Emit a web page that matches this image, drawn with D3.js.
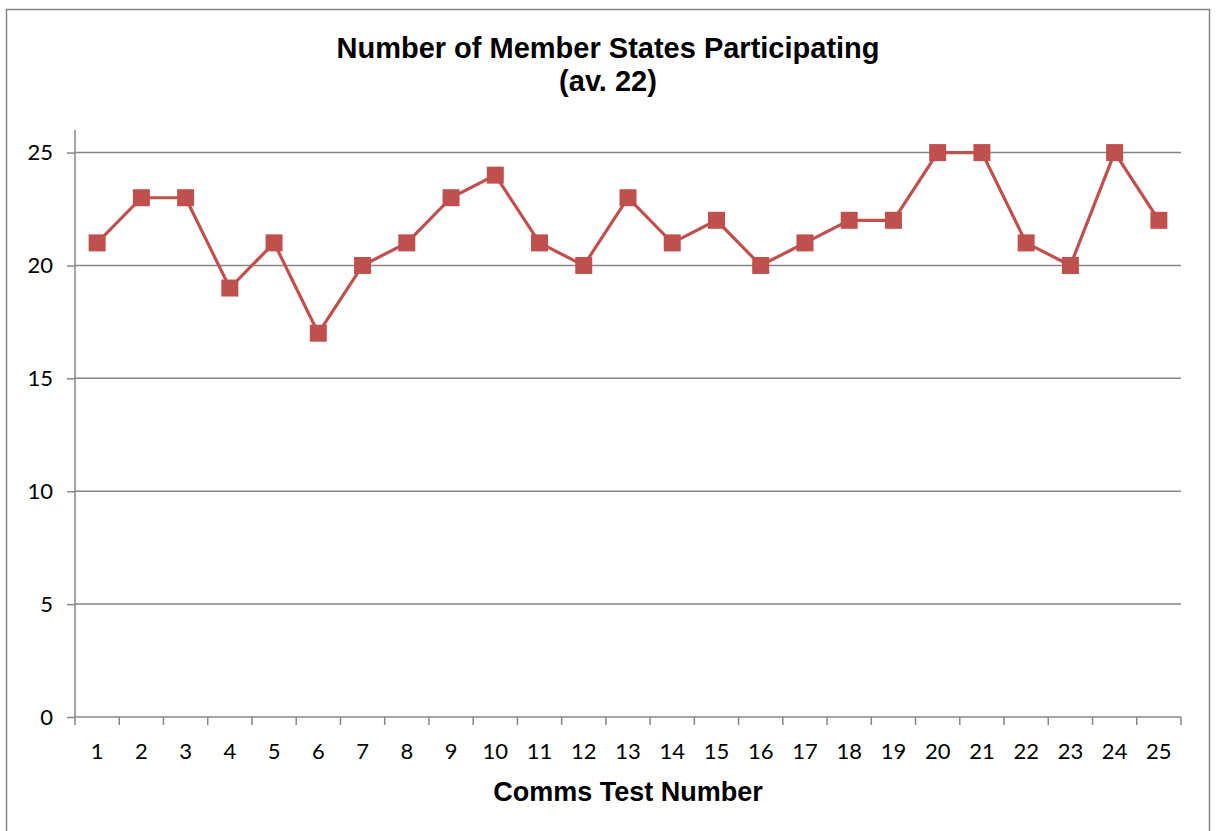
<!DOCTYPE html>
<html>
<head>
<meta charset="utf-8">
<script src="https://cdn.jsdelivr.net/npm/d3@7"></script>
<style>
body{margin:0;background:#fff;}
svg{display:block;}
</style>
</head>
<body>
<main></main>
<script>
const tests=["1","2","3","4","5","6","7","8","9","10","11","12","13","14","15","16","17","18","19","20","21","22","23","24","25"];
const states=[21,23,23,19,21,17,20,21,23,24,21,20,23,21,22,20,21,22,22,25,25,21,20,25,22];
const yTicks=[0,5,10,15,20,25];
const titleLines=["Number of Member States Participating","(av. 22)"];
const xTitle="Comms Test Number";

const w=1219;
const h=831;
const padL=75, padR=1181, padT=130, padB=717;
const red="#C0504D";
const grey="#878787";

let svg=d3.select("main")
          .append("svg")
          .attr("width",w)
          .attr("height",h);

svg.append("rect")
   .attr("x",6.5)
   .attr("y",9.5)
   .attr("width",1203)
   .attr("height",830)
   .attr("fill","none")
   .attr("stroke",grey)
   .attr("stroke-width",1.5);

const xScale=d3.scaleBand()
               .domain(tests)
               .range([padL,padR]);
const yScale=d3.scaleLinear()
               .domain([0,26])
               .range([padB,padT]);

// gridlines
svg.append("g")
   .selectAll("line")
   .data(yTicks.filter(t=>t>0))
   .enter()
   .append("line")
   .attr("x1",padL)
   .attr("x2",padR)
   .attr("y1",d=>yScale(d))
   .attr("y2",d=>yScale(d))
   .attr("stroke",grey)
   .attr("stroke-width",1.5);

const yAxis=d3.axisLeft(yScale)
              .tickValues(yTicks)
              .tickSize(8)
              .tickPadding(14);
const gy=svg.append("g")
   .attr("transform","translate("+padL+",0)")
   .call(yAxis);
gy.select(".domain").attr("stroke",grey).attr("stroke-width",1.5).attr("d","M0,"+padT+"V"+padB);
gy.selectAll(".tick line").attr("stroke",grey).attr("stroke-width",1.5);
gy.selectAll(".tick text")
  .style("font-family","Lato, 'Open Sans', sans-serif")
  .style("font-size","22px")
  .attr("fill","#000");

const xAxis=d3.axisBottom(xScale)
              .tickSize(0)
              .tickPadding(26);
const gx=svg.append("g")
   .attr("transform","translate(0,"+padB+")")
   .call(xAxis);
gx.select(".domain").attr("stroke",grey).attr("stroke-width",1.5).attr("d","M"+padL+",0H"+padR);
gx.selectAll(".tick line").remove();
gx.selectAll(".tick text")
  .style("font-family","Lato, 'Open Sans', sans-serif")
  .style("font-size","22px")
  .attr("fill","#000");
// category boundary ticks
gx.selectAll(".bound")
  .data(tests)
  .enter()
  .append("line")
  .attr("class","bound")
  .attr("x1",d=>xScale(d))
  .attr("x2",d=>xScale(d))
  .attr("y1",0)
  .attr("y2",8)
  .attr("stroke",grey)
  .attr("stroke-width",1.5);
gx.append("line")
  .attr("x1",padR).attr("x2",padR)
  .attr("y1",0).attr("y2",8)
  .attr("stroke",grey)
  .attr("stroke-width",1.5);

const line=d3.line()
             .x((d,i)=>xScale(tests[i])+xScale.bandwidth()/2)
             .y(d=>yScale(d));
svg.append("path")
   .datum(states)
   .attr("d",line)
   .attr("fill","none")
   .attr("stroke",red)
   .attr("stroke-width",3.2);

const m=17;
svg.selectAll(".marker")
   .data(states)
   .enter()
   .append("rect")
   .attr("class","marker")
   .attr("x",(d,i)=>xScale(tests[i])+xScale.bandwidth()/2-m/2)
   .attr("y",d=>yScale(d)-m/2)
   .attr("width",m)
   .attr("height",m)
   .attr("fill",red);

svg.append("text")
   .attr("x",608)
   .attr("y",58)
   .attr("text-anchor","middle")
   .style("font-family","'Liberation Sans', Arial, sans-serif")
   .style("font-weight","bold")
   .style("font-size","29px")
   .selectAll("tspan")
   .data(titleLines)
   .enter()
   .append("tspan")
   .attr("x",608)
   .attr("dy",(d,i)=>i==0?0:33)
   .text(d=>d);

svg.append("text")
   .attr("x",(padL+padR)/2)
   .attr("y",801)
   .attr("text-anchor","middle")
   .style("font-family","'Liberation Sans', Arial, sans-serif")
   .style("font-weight","bold")
   .style("font-size","27px")
   .text(xTitle);
</script>
</body>
</html>
